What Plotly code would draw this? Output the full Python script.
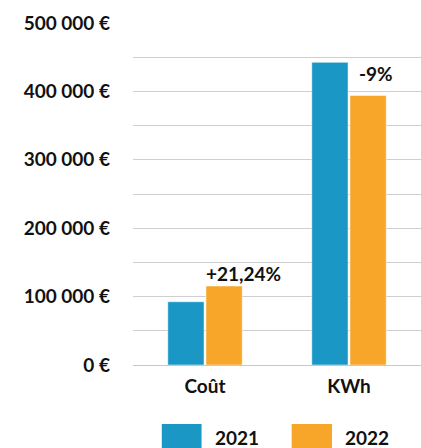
import plotly.graph_objects as go

categories = ["Coût", "KWh"]
values_2021 = [92500, 442500]
values_2022 = [115500, 394000]
series_names = ["2021", "2022"]
change_labels = ["+21,24%", "-9%"]
tick_values = [0, 100000, 200000, 300000, 400000, 500000]
tick_labels = ["0 €", "100 000 €", "200 000 €", "300 000 €", "400 000 €", "500 000 €"]

BLUE = "#1B97C6"
ORANGE = "#F7A62A"
TEXT = "#111111"
GRID = "#cfcfcf"
FONT = "Lato"
FS = 19

fig = go.Figure()
fig.add_trace(go.Bar(x=categories, y=values_2021, name=series_names[0],
                     marker=dict(color=BLUE, line=dict(color="white", width=0.5))))
fig.add_trace(go.Bar(x=categories, y=values_2022, name=series_names[1],
                     marker=dict(color=ORANGE, line=dict(color="white", width=0.5))))

# change annotations above the 2022 bars
shifts = [(38, 13), (27, 22)]
for cat, val, lab, (dx, dy) in zip(categories, values_2022, change_labels, shifts):
    fig.add_annotation(x=cat, y=val, text=lab, showarrow=False, xshift=dx, yshift=dy,
                       yanchor="middle", xanchor="center",
                       font=dict(family=FONT, size=FS, color=TEXT, weight="bold"))

# custom legend (large swatches)
legend_items = [(series_names[0], BLUE, 0.100, 0.238, 0.278),
                (series_names[1], ORANGE, 0.551, 0.691, 0.729)]
for name, col, x0, x1, xt in legend_items:
    fig.add_shape(type="rect", xref="paper", yref="paper", x0=x0, x1=x1, y0=-0.255, y1=-0.1725,
                  fillcolor=col, line=dict(width=0))
    fig.add_annotation(xref="paper", yref="paper", x=xt, y=-0.211, text=name, showarrow=False,
                       xanchor="left", yanchor="middle",
                       font=dict(family=FONT, size=FS, color=TEXT, weight="bold"))

fig.update_layout(
    width=421, height=448,
    margin=dict(l=133, r=0, t=23, b=83, autoexpand=False),
    paper_bgcolor="white", plot_bgcolor="white",
    barmode="group", bargap=0.47, bargroupgap=0.05,
    showlegend=False,
    hovermode=False,
    font=dict(family=FONT, color=TEXT),
)
fig.update_xaxes(showgrid=False, showline=False, ticks="", automargin=False,
                 ticklabelstandoff=8,
                 tickfont=dict(family=FONT, size=FS, color=TEXT, weight="bold"))
fig.update_yaxes(range=[0, 500000], tickvals=tick_values, ticktext=tick_labels,
                 automargin=False,
                 showgrid=True, gridcolor=GRID, gridwidth=1,
                 zeroline=True, zerolinecolor="#c8c8c8", zerolinewidth=1,
                 minor=dict(dtick=50000, tick0=0, showgrid=True, gridcolor=GRID, gridwidth=1),
                 ticklabelstandoff=22,
                 tickfont=dict(family=FONT, size=FS, color=TEXT, weight="bold"))

fig.write_html("out.html",
               config={"displayModeBar": False, "staticPlot": True},
               post_script="document.body.style.margin='0px';")
